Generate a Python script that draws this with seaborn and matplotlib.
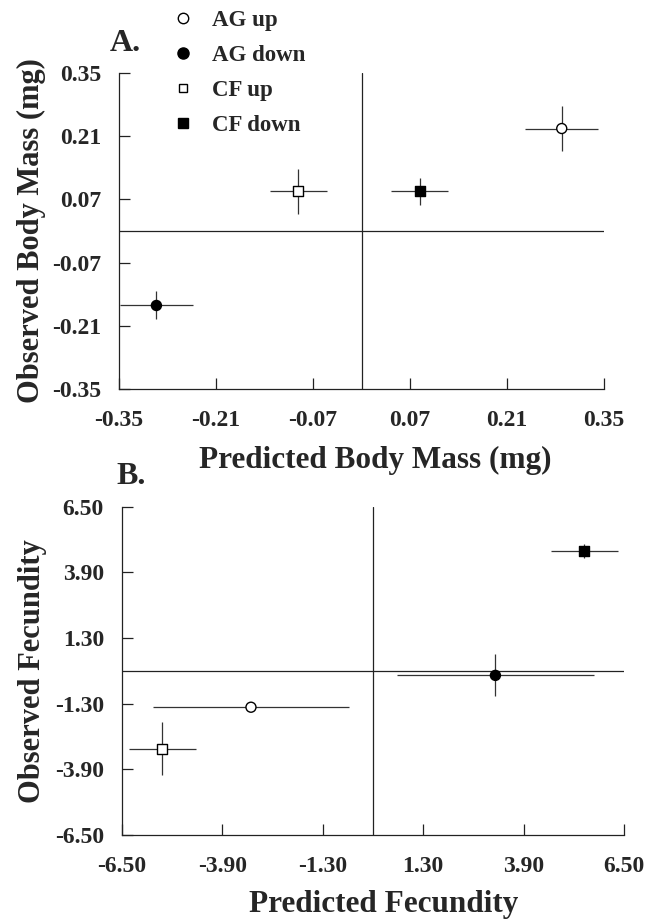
import numpy as np
import pandas as pd
import matplotlib
matplotlib.use("Agg")
import matplotlib.pyplot as plt
from matplotlib.lines import Line2D
import seaborn as sns

# ---------------- data ----------------
groups = ["AG up", "AG down", "CF up", "CF down"]

# Panel A: body mass (mg)
mass_pred = [0.289, -0.296, -0.091, 0.084]
mass_obs = [0.227, -0.165, 0.088, 0.088]
mass_pred_err = [0.053, 0.053, 0.041, 0.041]
mass_obs_err = [0.050, 0.031, 0.050, 0.030]
mass_ticks = [-0.35, -0.21, -0.07, 0.07, 0.21, 0.35]
mass_ticklabels = ["-0.35", "-0.21", "-0.07", "0.07", "0.21", "0.35"]

# Panel B: fecundity
fec_pred = [-3.16, 3.17, -5.46, 5.47]
fec_obs = [-1.44, -0.18, -3.08, 4.74]
fec_pred_err = [2.54, 2.55, 0.87, 0.87]
fec_obs_err = [0.0, 0.83, 1.04, 0.29]
fec_ticks = [-6.50, -3.90, -1.30, 1.30, 3.90, 6.50]
fec_ticklabels = ["-6.50", "-3.90", "-1.30", "1.30", "3.90", "6.50"]

# ---------------- style ----------------
sns.set_theme(style="ticks")
plt.rcParams["font.family"] = ["Liberation Serif", "DejaVu Serif"]
plt.rcParams["font.weight"] = "bold"
plt.rcParams["axes.unicode_minus"] = False

marker_map = {"AG up": "o", "AG down": "o", "CF up": "s", "CF down": "s"}
fill_map = {"AG up": "white", "AG down": "black", "CF up": "white", "CF down": "black"}
line_col = "#222222"

fig = plt.figure(figsize=(6.57, 9.22), dpi=100)
axA = fig.add_axes([119 / 657, 1 - 389 / 922, 485 / 657, 316 / 922])
axB = fig.add_axes([122 / 657, 1 - 835 / 922, 502 / 657, 328.3 / 922])


def panel(ax, px, oy, pxe, oye, ticks, ticklabels, lim, xlabel, ylabel,
          xl_coords, yl_coords):
    df = pd.DataFrame({"group": groups, "pred": px, "obs": oy,
                       "pred_err": pxe, "obs_err": oye})
    ax.axhline(0, color=line_col, lw=0.9, zorder=1)
    ax.axvline(0, color=line_col, lw=0.9, zorder=1)
    ax.errorbar(df["pred"], df["obs"], xerr=df["pred_err"], yerr=df["obs_err"],
                fmt="none", ecolor="#333333", elinewidth=0.9, capsize=0, zorder=2)
    sns.scatterplot(data=df, x="pred", y="obs", hue="group", style="group",
                    palette=fill_map, markers=marker_map, s=52,
                    edgecolor="black", linewidth=1.0, legend=False,
                    zorder=3, ax=ax)
    ax.set_xlim(lim)
    ax.set_ylim(lim)
    ax.set_xticks(ticks)
    ax.set_yticks(ticks)
    ax.set_xticklabels(ticklabels)
    ax.set_yticklabels(ticklabels)
    ax.tick_params(axis="both", direction="in", length=8, width=0.9,
                   color=line_col, labelsize=17)
    ax.tick_params(axis="x", pad=15)
    ax.tick_params(axis="y", pad=13)
    for lab in ax.get_xticklabels() + ax.get_yticklabels():
        lab.set_fontweight("bold")
    for side in ["top", "right"]:
        ax.spines[side].set_visible(False)
    for side in ["left", "bottom"]:
        ax.spines[side].set_linewidth(0.9)
        ax.spines[side].set_color(line_col)
    ax.set_xlabel(xlabel, fontsize=22.5, fontweight="bold")
    ax.set_ylabel(ylabel, fontsize=22, fontweight="bold")
    ax.xaxis.label.set_va("center")
    ax.yaxis.label.set_va("center")
    ax.xaxis.set_label_coords(*xl_coords)
    ax.yaxis.set_label_coords(*yl_coords)


panel(axA, mass_pred, mass_obs, mass_pred_err, mass_obs_err,
      mass_ticks, mass_ticklabels, (-0.35, 0.35),
      "Predicted Body Mass (mg)", "Observed Body Mass (mg)",
      (0.528, -0.225), (-0.181, 0.5))
panel(axB, fec_pred, fec_obs, fec_pred_err, fec_obs_err,
      fec_ticks, fec_ticklabels, (-6.5, 6.5),
      "Predicted Fecundity", "Observed Fecundity",
      (0.522, -0.212), (-0.179, 0.5))

fig.text(110 / 657, 1 - 51 / 922, "A.", fontsize=23, fontweight="bold",
         ha="left", va="baseline")
fig.text(116 / 657, 1 - 484 / 922, "B.", fontsize=23, fontweight="bold",
         ha="left", va="baseline")

# legend
handles = []
for g, ms in zip(groups, [7.5, 8, 6, 6.5]):
    handles.append(Line2D([], [], ls="none", marker=marker_map[g], ms=ms,
                          mfc=fill_map[g], mec="black", mew=1.0))
fig.legend(handles, groups, loc="upper left",
           bbox_to_anchor=(172 / 657, 1 - 10 / 922), frameon=False,
           handlelength=1.0, handletextpad=0.75, borderpad=0, borderaxespad=0,
           labelspacing=0.61, prop={"size": 16.5, "weight": "bold",
                                    "family": ["Liberation Serif"]})

fig.savefig("out.png", dpi=100)
